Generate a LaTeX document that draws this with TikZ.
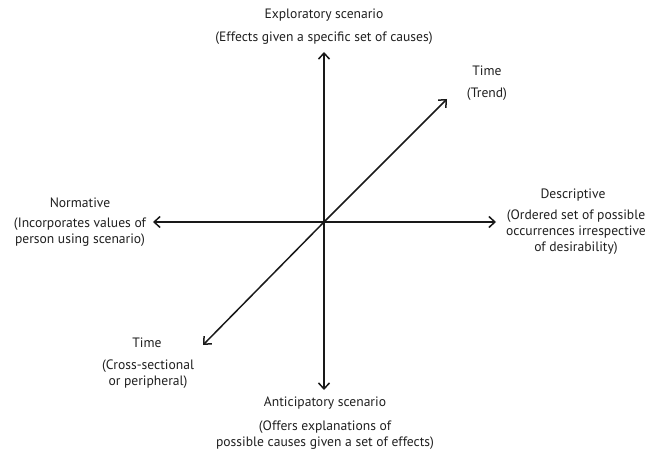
\documentclass[tikz,border=0pt]{standalone}
\usepackage{fontspec}
\setmainfont{PT Sans}
\usetikzlibrary{arrows.meta}
\begin{document}
\begin{tikzpicture}[x=1pt,y=-1pt,
  axis/.style={line width=1.5pt,draw=black!90,-{Straight Barb[length=6pt,width=11pt,line width=1.5pt]}},
  lbl/.style={font=\fontsize{13.6}{16}\selectfont,align=center,inner sep=0pt,text=black!88}]
\useasboundingbox (0,0) rectangle (652,454);
% axes
\coordinate (o) at (324,222);
\coordinate (top) at (324,52);
\coordinate (bot) at (324,390);
\coordinate (lft) at (153,222);
\coordinate (rgt) at (496,222);
\coordinate (ne) at (447,99);
\coordinate (sw) at (203,345);
\draw[axis] (o) -- (top);
\draw[axis] (o) -- (bot);
\draw[axis] (o) -- (lft);
\draw[axis] (o) -- (rgt);
\draw[axis] (o) -- (ne);
\draw[axis] (o) -- (sw);
% labels
\node[lbl] (expl) at (324,15) {Exploratory scenario};
\node[lbl] (explc) at (324,38) {(Effects given a specific set of causes)};
\node[lbl] (tr) at (487,71) {Time};
\node[lbl] (trc) at (487,94) {(Trend)};
\node[lbl] (norm) at (80,203) {Normative};
\node[lbl] (normc) at (80,232) {(Incorporates values of\\person using scenario)};
\node[lbl] (desc) at (573,195) {Descriptive};
\node[lbl] (descc) at (576,232) {(Ordered set of possible\\occurrences irrespective\\of desirability)};
\node[lbl] (tcs) at (147,343) {Time};
\node[lbl] (tcsc) at (148,374.5) {(Cross-sectional\\or peripheral)};
\node[lbl] (anti) at (325,403) {Anticipatory scenario};
\node[lbl] (antic) at (325,435.5) {(Offers explanations of\\possible causes given a set of effects)};
\end{tikzpicture}
\end{document}
